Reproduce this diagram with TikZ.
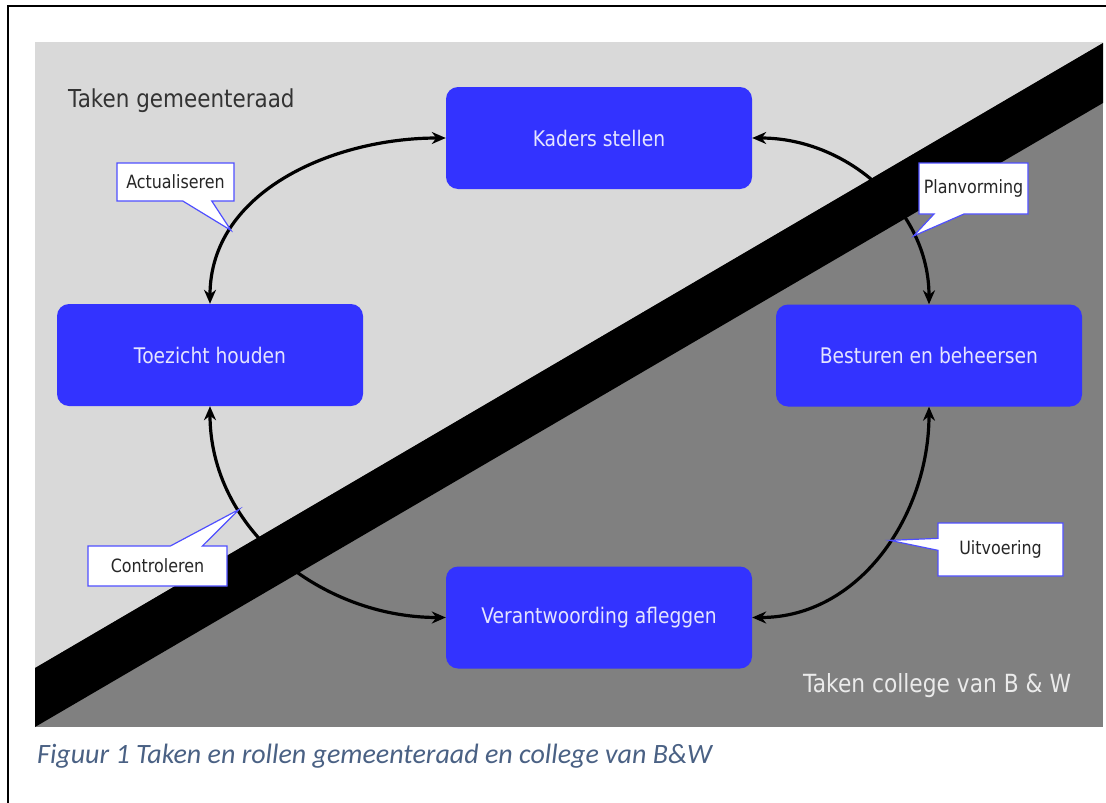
\documentclass[tikz,border=0pt]{standalone}
\usepackage{fontspec}
\setmainfont{DejaVu Sans}[FakeStretch=0.87]
\newfontfamily\capfont{Carlito}
\usetikzlibrary{arrows.meta,shapes.callouts}
\definecolor{nodeblue}{HTML}{3333FF}
\definecolor{nodetext}{HTML}{E4E4FF}
\definecolor{callblue}{HTML}{4F4FFF}
\definecolor{lightbg}{HTML}{D9D9D9}
\definecolor{darkbg}{HTML}{808080}
\definecolor{captext}{HTML}{4A6184}
\tikzset{
  task/.style={rectangle, rounded corners=12pt, fill=nodeblue, text=nodetext,
    minimum width=306pt, minimum height=102pt, inner sep=0pt,
    font=\fontsize{21.5}{24}\selectfont},
  callbox/.style={rectangle callout, draw=callblue, line width=1.2pt, fill=white,
    inner sep=0pt, text=black!85, font=\fontsize{18.3}{20}\selectfont},
  arr/.style={line width=3.2pt, {Stealth[length=14pt,width=12pt]}-{Stealth[length=14pt,width=12pt]}},
  title/.style={inner sep=0pt, font=\fontsize{24.7}{28}\selectfont}
}
\begin{document}
\begin{tikzpicture}[x=1pt,y=1pt]
\useasboundingbox (0,0) rectangle (1106,-803);
% outer frame
\draw[line width=1.5pt] (8,-803) -- (8,-6) -- (1106,-6);
% panel
\fill[darkbg] (35,-42) rectangle (1103,-727);
\fill[lightbg] (35,-42) -- (1103,-42) -- (1103,-43) -- (35,-668) -- cycle;
\fill[black] (35,-668) -- (1103,-43) -- (1103,-103) -- (35,-727) -- cycle;
% titles
\node[title, anchor=base west, text=black!80] (tg) at (68,-107) {Taken gemeenteraad};
\node[title, anchor=base west, text=white!92!black, font=\fontsize{25}{28}\selectfont] (tc) at (803,-692) {Taken college van B \& W};
% task nodes
\node[task] (kad) at (599,-138) {Kaders stellen};
\node[task] (toez) at (210,-355) {Toezicht houden};
\node[task] (bes) at (929,-355.5) {Besturen en beheersen};
\node[task] (ver) at (599,-617.5) {Verantwoording afleggen};
% arcs
\draw[arr] (toez.north) to[out=90,in=180] coordinate[pos=0.25] (pA) (kad.west);
\draw[arr] (kad.east) to[out=0,in=90] coordinate[pos=0.74] (pP) (bes.north);
\draw[arr] (bes.south) to[out=-90,in=0] coordinate[pos=0.45] (pU) (ver.east);
\draw[arr] (toez.south) to[out=-90,in=180] coordinate[pos=0.31] (pC) (ver.west);
% callouts
\node[callbox, minimum width=117pt, minimum height=38pt, callout pointer width=29pt,
  callout absolute pointer={(pA)}] (cA) at (175.5,-182) {Actualiseren};
\node[callbox, minimum width=109pt, minimum height=51pt, callout pointer width=30pt,
  callout absolute pointer={(pP)}] (cP) at (973.5,-188.5) {Planvorming};
\node[callbox, minimum width=139pt, minimum height=40pt, callout pointer width=32pt,
  callout absolute pointer={(pC)}] (cC) at (157.5,-566) {Controleren};
\node[callbox, minimum width=125pt, minimum height=53pt, callout pointer width=12pt,
  callout absolute pointer={(pU)}] (cU) at (1000.5,-549.5) {Uitvoering};
% caption
\node[anchor=base west, inner sep=0pt, text=captext, font=\capfont\itshape\fontsize{28}{32}\selectfont] (cap) at (37,-763) {Figuur 1 Taken en rollen gemeenteraad en college van B\&W};
\end{tikzpicture}
\end{document}
